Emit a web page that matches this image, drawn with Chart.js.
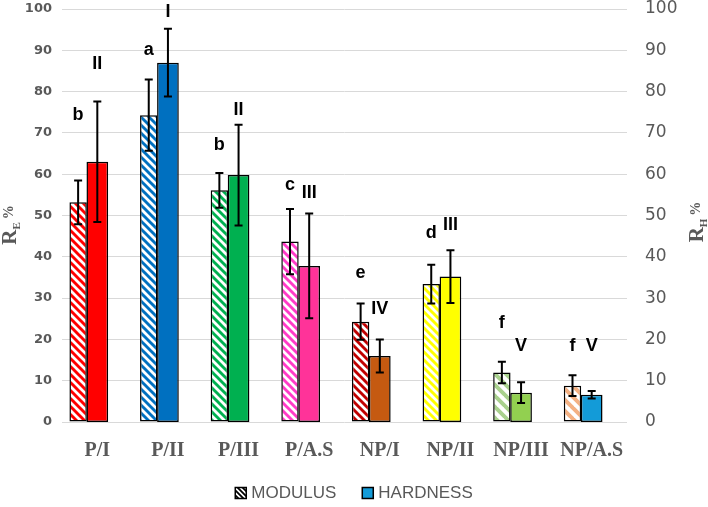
<!DOCTYPE html>
<html>
<head>
<meta charset="utf-8">
<script src="https://cdn.jsdelivr.net/npm/chart.js@4/dist/chart.umd.min.js"></script>
<style>
  html, body { margin: 0; padding: 0; background: #fff; }
  #wrap { width: 708px; height: 507px; }
</style>
</head>
<body>
<div id="wrap"><canvas id="chart"></canvas></div>
<script>
const categories = ['P/I', 'P/II', 'P/III', 'P/A.S', 'NP/I', 'NP/II', 'NP/III', 'NP/A.S'];
const modulus = [53.2, 74.3, 56.1, 43.7, 24.3, 33.4, 12.0, 8.8];
const modulusErr = [5.3, 8.6, 4.2, 7.9, 4.4, 4.7, 2.6, 2.5];
const hardness = [63.0, 87.0, 59.8, 37.8, 16.0, 35.2, 7.1, 6.6];
const hardnessErr = [14.6, 8.2, 12.2, 12.7, 4.0, 6.4, 2.5, 0.9];
const modulusLetters = ['b', 'a', 'b', 'c', 'e', 'd', 'f', 'f'];
const hardnessLetters = ['II', 'I', 'II', 'III', 'IV', 'III', 'V', 'V'];
// height (in axis units) where each letter sits
const modulusLetterAt = [74.3, 90.1, 67.1, 57.4, 36.1, 45.8, 24.0, 18.4];
const hardnessLetterAt = [86.7, 99.3, 75.5, 55.4, 27.4, 47.7, 18.4, 18.4];
const axisTicks = [0, 10, 20, 30, 40, 50, 60, 70, 80, 90, 100];
const seriesNames = ['MODULUS', 'HARDNESS'];

const modulusColors = ['#FF0000', '#0070C0', '#00B050', '#FF3CC8', '#C00000', '#FFFF00', '#A9D18E', '#F4B183'];
const hardnessColors = ['#FF0000', '#0070C0', '#00B050', '#FF3399', '#C55A11', '#FFFF00', '#92D050', '#139BD8'];
const hatchSpacing = [8, 8, 8, 8, 8, 8, 11, 11];

const GREY = '#595959';

function hatch(color, size) {
  const c = document.createElement('canvas');
  c.width = size; c.height = size;
  const g = c.getContext('2d');
  g.fillStyle = '#fff';
  g.fillRect(0, 0, size, size);
  g.strokeStyle = color;
  g.lineWidth = size * 0.36;
  g.beginPath();
  for (const k of [-size, 0, size]) {
    g.moveTo(k - 1, -1);
    g.lineTo(k + size + 1, size + 1);
  }
  g.stroke();
  return g.createPattern(c, 'repeat');
}

const errorBars = {
  id: 'errorBars',
  afterDatasetsDraw(chart) {
    const ctx = chart.ctx;
    const sets = [[0, modulus, modulusErr, 'y'], [2, hardness, hardnessErr, 'y2']];
    ctx.save();
    ctx.strokeStyle = '#000';
    ctx.lineWidth = 2;
    for (const [di, vals, errs, ax] of sets) {
      const meta = chart.getDatasetMeta(di);
      const sc = chart.scales[ax];
      meta.data.forEach((el, i) => {
        const top = sc.getPixelForValue(vals[i] + errs[i]);
        const bot = sc.getPixelForValue(vals[i] - errs[i]);
        ctx.beginPath();
        ctx.moveTo(el.x, top); ctx.lineTo(el.x, bot);
        ctx.moveTo(el.x - 4, top); ctx.lineTo(el.x + 4, top);
        ctx.moveTo(el.x - 4, bot); ctx.lineTo(el.x + 4, bot);
        ctx.stroke();
      });
    }
    // significance letters
    ctx.fillStyle = '#000';
    ctx.font = 'bold 18px "Liberation Sans", Arial';
    ctx.textAlign = 'center';
    ctx.textBaseline = 'middle';
    const lab = [[0, modulusLetters, modulusLetterAt, 'y'], [2, hardnessLetters, hardnessLetterAt, 'y2']];
    for (const [di, texts, at, ax] of lab) {
      const meta = chart.getDatasetMeta(di);
      const sc = chart.scales[ax];
      meta.data.forEach((el, i) => {
        ctx.fillText(texts[i], el.x, sc.getPixelForValue(at[i]));
      });
    }
    ctx.restore();
  }
};

function drawTitle(ctx, x, y, main, sub, tail) {
  ctx.save();
  ctx.translate(x, y);
  ctx.rotate(-Math.PI / 2);
  ctx.fillStyle = GREY;
  ctx.textAlign = 'left';
  ctx.textBaseline = 'alphabetic';
  const f1 = 'bold 21px "Liberation Serif"', f2 = 'bold 11px "Liberation Serif"', f3 = 'bold 14px "Liberation Serif"';
  ctx.font = f1; const w1 = ctx.measureText(main).width;
  ctx.font = f2; const w2 = ctx.measureText(sub).width;
  ctx.font = f3; const w3 = ctx.measureText(tail).width;
  let cx = -(w1 + w2 + 3 + w3) / 2;
  ctx.font = f1; ctx.fillText(main, cx, 0); cx += w1;
  ctx.font = f2; ctx.fillText(sub, cx, 4); cx += w2 + 3;
  ctx.font = f3; ctx.fillText(tail, cx, -3);
  ctx.restore();
}

const axisTitles = {
  id: 'axisTitles',
  afterDraw(chart) {
    drawTitle(chart.ctx, 16, 225, 'R', 'E', '%');
    drawTitle(chart.ctx, 703, 222, 'R', 'H', '%');
  }
};

// legend drawn under the x labels, centred on the canvas
const bottomLegend = {
  id: 'bottomLegend',
  afterDraw(chart) {
    const ctx = chart.ctx;
    const fills = [hatch('#000', 5), hardnessColors[hardnessColors.length - 1]];
    ctx.save();
    ctx.font = '17px "Liberation Sans", Arial';
    ctx.textBaseline = 'middle';
    ctx.textAlign = 'left';
    const box = 11, gap = 5, between = 26, y = 493;
    const widths = seriesNames.map(t => ctx.measureText(t).width);
    const total = widths.reduce((a, w) => a + box + gap + w, 0) + between * (seriesNames.length - 1);
    let x = chart.width / 2 - total / 2;
    seriesNames.forEach((t, i) => {
      ctx.fillStyle = fills[i];
      ctx.fillRect(x, y - box / 2, box, box);
      ctx.strokeStyle = '#000';
      ctx.lineWidth = 1.5;
      ctx.strokeRect(x, y - box / 2, box, box);
      ctx.fillStyle = GREY;
      ctx.fillText(t, x + box + gap, y);
      x += box + gap + widths[i] + between;
    });
    ctx.restore();
  }
};

// fixed axis widths and only half a label of headroom above the 100 line
const fixAxis = w => s => {
  s.width = w;
  s.paddingTop = 9;
  s.paddingBottom = 0;
};

new Chart(document.getElementById('chart'), {
  type: 'bar',
  data: {
    labels: categories,
    datasets: [
      {
        label: seriesNames[0],
        data: modulus,
        yAxisID: 'y',
        backgroundColor: modulusColors.map((c, i) => hatch(c, hatchSpacing[i])),
        borderColor: '#000',
        borderWidth: 1.5,
        borderSkipped: false,
        categoryPercentage: 1.087,
        barPercentage: 0.453
      },
      {
        // empty spacer keeps modulus bars left of the category centre
        label: '',
        data: [],
        yAxisID: 'y'
      },
      {
        label: seriesNames[1],
        data: hardness,
        yAxisID: 'y2',
        grouped: false,
        backgroundColor: hardnessColors,
        borderColor: '#000',
        borderWidth: 1.5,
        borderSkipped: false,
        categoryPercentage: 1,
        barPercentage: 0.307
      }
    ]
  },
  options: {
    responsive: true,
    maintainAspectRatio: false,
    animation: false,
    layout: { padding: 0 },
    plugins: {
      tooltip: { enabled: false },
      legend: { display: false }
    },
    scales: {
      x: {
        grid: { display: false, drawTicks: false },
        border: { display: false },
        ticks: {
          color: GREY,
          font: { family: '"Liberation Serif"', size: 20, weight: 'bold' },
          padding: 17,
          autoSkip: false,
          maxRotation: 0
        },
        afterFit: s => { s.height = 85; }
      },
      y: {
        position: 'left',
        min: 0,
        max: 100,
        afterBuildTicks: s => { s.ticks = axisTicks.map(v => ({ value: v })); },
        grid: { color: '#D9D9D9', lineWidth: 1, drawTicks: false },
        border: { display: false },
        ticks: {
          color: GREY,
          font: { family: '"DejaVu Sans"', size: 13, weight: 'bold', lineHeight: 1 },
          padding: 10
        },
        afterFit: fixAxis(62)
      },
      y2: {
        position: 'right',
        min: 0,
        max: 100,
        afterBuildTicks: s => { s.ticks = axisTicks.map(v => ({ value: v })); },
        grid: { display: false, drawTicks: false },
        border: { display: false },
        ticks: {
          color: GREY,
          font: { family: '"DejaVu Sans"', size: 17, lineHeight: 1.05 },
          padding: 18
        },
        afterFit: fixAxis(81)
      }
    }
  },
  plugins: [errorBars, axisTitles, bottomLegend]
});
</script>
</body>
</html>
